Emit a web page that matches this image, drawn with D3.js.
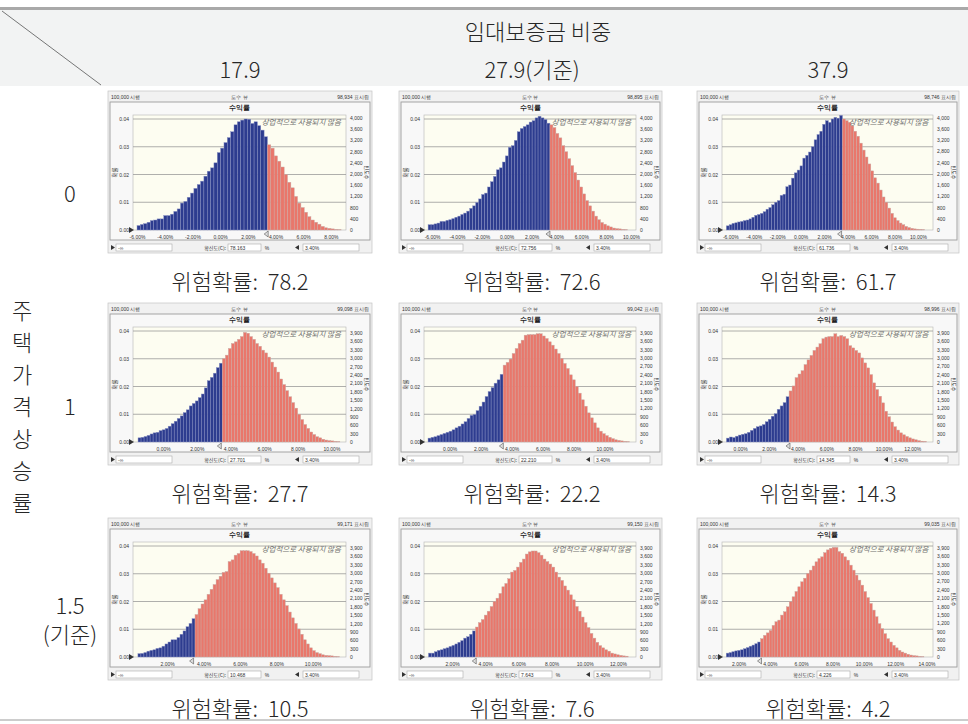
<!DOCTYPE html>
<html><head><meta charset="utf-8">
<script src="https://cdn.jsdelivr.net/npm/d3@7"></script>
<style>body{margin:0;background:#fff} svg{display:block} text{white-space:pre}</style>
</head><body><svg id="c" width="968" height="724"></svg>
<script>
// ---------------- data ----------------
const headerTitle = "임대보증금 비중";
const colLabels = ["17.9", "27.9(기준)", "37.9"];
const rowTitle = ["주","택","가","격","상","승","률"];
const rowLabels = [["0"], ["1"], ["1.5", "(기준)"]];
const riskLabel = "위험확률";
const riskValues = ["78.2", "72.6", "61.7", "27.7", "22.2", "14.3", "10.5", "7.6", "4.2"];
const certainty = ["78.163", "72.756", "61.736", "27.701", "22.210", "14.345", "10.468", "7.643", "4.226"];
const shownCount = [98934, 98895, 98746, 99098, 99042, 98996, 99171, 99150, 99035];
const trials = "100,000 시행";
const splitValue = 3.4;
const probTicks = [0, 0.01, 0.02, 0.03, 0.04];
const countTicksRow = [
  [0,400,800,1200,1600,2000,2400,2800,3200,3600,4000],
  [0,300,600,900,1200,1500,1800,2100,2400,2700,3000,3300,3600,3900],
  [0,300,600,900,1200,1500,1800,2100,2400,2700,3000,3300,3600,3900]
];
const xTicks = [
  [-6,-4,-2,0,2,4,6,8], [-6,-4,-2,0,2,4,6,8,10], [-6,-4,-2,0,2,4,6,8,10],
  [0,2,4,6,8,10], [0,2,4,6,8,10], [0,2,4,6,8,10,12],
  [2,4,6,8,10], [2,4,6,8,10,12], [2,4,6,8,10,12,14]
];
const xMin = [-6.29, -6.65, -6.71, -1.79, -1.66, -1.27, 0.13, 0.31, 0.94];
const xMax = [9.09, 10.4, 11.28, 10.87, 12.03, 13.44, 11.82, 13.09, 14.42];
const binStart = [-6.0, -6.32, -6.34, -1.49, -1.40, -0.96, 0.40, 0.58, 1.21];
const binWidth = [0.2415, 0.239, 0.2415, 0.179, 0.194, 0.208, 0.165, 0.177, 0.183];

const hist0 = [0.0016,0.0020,0.0023,0.0028,0.0034,0.0036,0.0040,0.0040,0.0052,0.0052,0.0057,0.0067,0.0076,0.0097,0.0103,0.0118,0.0133,0.0150,0.0164,0.0176,0.0194,0.0212,0.0224,0.0242,0.0279,0.0295,0.0315,0.0333,0.0354,0.0379,0.0390,0.0396,0.0400,0.0399,0.0384,0.0390,0.0376,0.0360,0.0336,
  0.0307,0.0295,0.0267,0.0248,0.0227,0.0200,0.0172,0.0152,0.0121,0.0097,0.0081,0.0064,0.0048,0.0036,0.0028,0.0021,0.0013,0.0008,0.0006,0.0004,0.0002,0.0001];
const hist1 = [0.0019,0.0019,0.0022,0.0025,0.0031,0.0031,0.0035,0.0037,0.0041,0.0046,0.0050,0.0056,0.0061,0.0068,0.0078,0.0087,0.0099,0.0112,0.0128,0.0133,0.0155,0.0174,0.0193,0.0217,0.0224,0.0245,0.0267,0.0298,0.0304,0.0323,0.0354,0.0366,0.0373,0.0379,0.0389,0.0394,0.0404,0.0410,0.0404,0.0398,0.0385,
  0.0379,0.0369,0.0348,0.0332,0.0304,0.0282,0.0257,0.0232,0.0207,0.0180,0.0155,0.0130,0.0106,0.0087,0.0068,0.0050,0.0037,0.0027,0.0021,0.0015,0.0011,0.0007,0.0005,0.0004,0.0002,0.0001];
const hist2 = [0.0015,0.0019,0.0024,0.0026,0.0029,0.0031,0.0034,0.0036,0.0040,0.0046,0.0053,0.0056,0.0060,0.0066,0.0075,0.0081,0.0091,0.0100,0.0106,0.0125,0.0129,0.0156,0.0162,0.0187,0.0206,0.0216,0.0231,0.0259,0.0269,0.0281,0.0300,0.0325,0.0344,0.0356,0.0381,0.0394,0.0388,0.0400,0.0406,0.0403,0.0413,
  0.0400,0.0394,0.0388,0.0375,0.0356,0.0338,0.0313,0.0288,0.0263,0.0238,0.0213,0.0188,0.0169,0.0144,0.0119,0.0100,0.0079,0.0060,0.0044,0.0034,0.0025,0.0019,0.0013,0.0009,0.0006,0.0004,0.0003,0.0002,0.0001];
const hist3 = [0.0015,0.0017,0.0020,0.0024,0.0029,0.0033,0.0035,0.0041,0.0044,0.0049,0.0057,0.0066,0.0075,0.0085,0.0094,0.0106,0.0116,0.0130,0.0139,0.0148,0.0160,0.0173,0.0195,0.0221,0.0233,0.0248,0.0268,0.0284,
  0.0300,0.0313,0.0337,0.0355,0.0361,0.0370,0.0380,0.0395,0.0392,0.0380,0.0370,0.0355,0.0345,0.0331,0.0321,0.0306,0.0288,0.0270,0.0252,0.0227,0.0207,0.0185,0.0163,0.0142,0.0122,0.0100,0.0081,0.0063,0.0049,0.0036,0.0027,0.0019,0.0015,0.0010,0.0007,0.0005,0.0004,0.0002,0.0001];
const hist4 = [0.0014,0.0017,0.0019,0.0023,0.0027,0.0031,0.0035,0.0039,0.0044,0.0051,0.0057,0.0065,0.0073,0.0085,0.0096,0.0099,0.0113,0.0129,0.0144,0.0164,0.0182,0.0196,0.0212,0.0224,0.0244,
  0.0277,0.0287,0.0299,0.0319,0.0337,0.0355,0.0367,0.0385,0.0387,0.0387,0.0387,0.0390,0.0390,0.0382,0.0373,0.0361,0.0349,0.0335,0.0319,0.0301,0.0283,0.0265,0.0242,0.0224,0.0200,0.0176,0.0152,0.0129,0.0105,0.0087,0.0069,0.0051,0.0039,0.0030,0.0023,0.0017,0.0012,0.0008,0.0006,0.0004,0.0002,0.0001];
const hist5 = [0.0014,0.0018,0.0016,0.0021,0.0025,0.0028,0.0030,0.0035,0.0042,0.0049,0.0055,0.0058,0.0063,0.0073,0.0082,0.0093,0.0102,0.0118,0.0130,0.0142,0.0163,
  0.0184,0.0202,0.0232,0.0245,0.0257,0.0279,0.0296,0.0312,0.0330,0.0342,0.0354,0.0372,0.0378,0.0380,0.0380,0.0390,0.0380,0.0384,0.0380,0.0372,0.0347,0.0339,0.0330,0.0321,0.0303,0.0285,0.0267,0.0243,0.0213,0.0189,0.0165,0.0141,0.0111,0.0091,0.0072,0.0055,0.0043,0.0033,0.0026,0.0020,0.0015,0.0011,0.0008,0.0005,0.0003,0.0002];
const hist6 = [0.0012,0.0013,0.0016,0.0021,0.0024,0.0026,0.0031,0.0033,0.0039,0.0047,0.0054,0.0062,0.0062,0.0070,0.0082,0.0094,0.0109,0.0121,0.0138,
  0.0153,0.0174,0.0191,0.0206,0.0226,0.0244,0.0261,0.0279,0.0291,0.0305,0.0308,0.0344,0.0350,0.0367,0.0373,0.0383,0.0383,0.0383,0.0380,0.0373,0.0364,0.0350,0.0338,0.0320,0.0302,0.0285,0.0267,0.0250,0.0226,0.0206,0.0185,0.0162,0.0141,0.0121,0.0101,0.0082,0.0062,0.0047,0.0033,0.0023,0.0016,0.0012,0.0008,0.0006,0.0005,0.0004,0.0002,0.0001];
const hist7 = [0.0014,0.0014,0.0019,0.0024,0.0026,0.0030,0.0033,0.0038,0.0042,0.0047,0.0053,0.0059,0.0068,0.0073,0.0082,0.0094,
  0.0108,0.0124,0.0135,0.0151,0.0165,0.0182,0.0200,0.0212,0.0229,0.0253,0.0265,0.0282,0.0306,0.0312,0.0324,0.0341,0.0353,0.0371,0.0379,0.0382,0.0382,0.0376,0.0367,0.0353,0.0344,0.0335,0.0324,0.0306,0.0288,0.0276,0.0256,0.0241,0.0224,0.0206,0.0182,0.0165,0.0144,0.0124,0.0106,0.0085,0.0068,0.0053,0.0041,0.0033,0.0026,0.0021,0.0014,0.0011,0.0008,0.0006,0.0004,0.0003];
const hist8 = [0.0014,0.0016,0.0019,0.0022,0.0024,0.0026,0.0030,0.0034,0.0039,0.0043,0.0048,0.0054,
  0.0066,0.0078,0.0087,0.0096,0.0114,0.0127,0.0133,0.0151,0.0163,0.0181,0.0199,0.0217,0.0236,0.0253,0.0271,0.0284,0.0301,0.0313,0.0328,0.0343,0.0355,0.0361,0.0376,0.0386,0.0392,0.0395,0.0395,0.0380,0.0374,0.0361,0.0349,0.0331,0.0313,0.0295,0.0277,0.0259,0.0236,0.0214,0.0193,0.0169,0.0145,0.0120,0.0102,0.0084,0.0066,0.0054,0.0042,0.0033,0.0024,0.0018,0.0014,0.0010,0.0007,0.0005,0.0004,0.0002,0.0001];
const hists = [hist0, hist1, hist2, hist3, hist4, hist5, hist6, hist7, hist8];

// ---------------- layout ----------------
const W = 968, H = 724;
const KR = "'Noto Sans CJK KR','Noto Sans',sans-serif";
const SM = "'Liberation Sans','DejaVu Sans',sans-serif";
const rowBase = [230, 442, 657];
const colLeft = [133, 424, 722];
const colWidth = [213, 212, 211];
const colCenter = [240, 532, 828];
const captionY = [280, 492, 707];
const plotH = 115;
const yMax = 0.04 * 115 / 111;
const BLUE = "#2d3c8f", RED = "#e9776b";

const svg = d3.select("#c");

// header band
svg.append("rect").attr("x",0).attr("y",10).attr("width",W).attr("height",76).attr("fill","#f2f3f3");
svg.append("rect").attr("x",0).attr("y",7).attr("width",W).attr("height",3).attr("fill","#a9a9a9");
svg.append("line").attr("x1",2).attr("y1",11).attr("x2",101).attr("y2",85).attr("stroke","#555").attr("stroke-width",0.8);
svg.append("line").attr("x1",0).attr("y1",720).attr("x2",W).attr("y2",720).attr("stroke","#9a9a9a").attr("stroke-width",1);

const big = (x,y,t,size=22)=>svg.append("text").attr("x",x).attr("y",y).attr("text-anchor","middle")
  .attr("dominant-baseline","central").attr("font-family",KR).attr("font-weight",300)
  .attr("font-size",size).attr("fill","#262626").text(t);

big(538, 30, headerTitle);
colLabels.forEach((t,i)=>big(colCenter[i], 68, t));
rowTitle.forEach((t,i)=>big(22, 309 + i*32, t));
big(70, 192, rowLabels[0][0]);
big(70, 405, rowLabels[1][0]);
big(70, 604, rowLabels[2][0]);
big(70, 633, rowLabels[2][1]);

// panels
for (let r=0;r<3;r++) for (let c=0;c<3;c++) {
  const i = r*3+c;
  const y0 = rowBase[r], pL = colLeft[c], pW = colWidth[c], pR = pL+pW, pT = y0-plotH;
  const x = d3.scaleLinear().domain([xMin[i], xMax[i]]).range([pL, pR]);
  const y = d3.scaleLinear().domain([0, yMax]).range([y0, pT]);
  const yc = d3.scaleLinear().domain([0, yMax*shownCount[i]]).range([y0, pT]);
  const g = svg.append("g");

  g.append("rect").attr("x",pL-25).attr("y",y0-139).attr("width",pW+51).attr("height",162)
    .attr("fill","#f1f1f1").attr("stroke","#c4c4c4").attr("stroke-width",0.7);
  g.append("rect").attr("x",pL-23).attr("y",y0-128).attr("width",pW+47).attr("height",138)
    .attr("fill","#f8f8f8").attr("stroke","#9c9c9c").attr("stroke-width",0.9);
  const small = (xx,yy,t,anchor="middle",size=5,extra={})=>{
    const tt = g.append("text").attr("x",xx).attr("y",yy).attr("text-anchor",anchor)
      .attr("dominant-baseline","central").attr("font-family",SM).attr("font-size",size).attr("fill","#333").text(t);
    Object.entries(extra).forEach(([k,v])=>tt.attr(k,v));
    return tt;
  };
  small(pL-22, y0-133, trials, "start");
  small(pL+pW/2, y0-133, "도수 뷰");
  small(pR+23, y0-133, d3.format(",")(shownCount[i]) + " 표시됨", "end");
  small(pL+pW/2, y0-123, "수익률", "middle", 6.5, {"font-weight":"bold","fill":"#222"});

  g.append("rect").attr("x",pL).attr("y",pT).attr("width",pW).attr("height",plotH)
    .attr("fill","#fdfdf1").attr("stroke","#b5b5b5").attr("stroke-width",0.6);
  g.selectAll(".grid").data(probTicks.slice(1)).join("line")
    .attr("x1",pL).attr("x2",pR).attr("y1",d=>y(d)).attr("y2",d=>y(d))
    .attr("stroke","#9a9a9a").attr("stroke-width",0.8);

  const bins = hists[i].map((v,k)=>({x0: binStart[i]+k*binWidth[i], x1: binStart[i]+(k+1)*binWidth[i], v}));
  g.selectAll(".bar").data(bins).join("rect")
    .attr("x",d=>x(d.x0)).attr("width",d=>x(d.x1)-x(d.x0))
    .attr("y",d=>y(d.v)).attr("height",d=>y(0)-y(d.v))
    .attr("fill",d=>d.x0 < splitValue ? BLUE : RED)
    .attr("stroke",d=>d.x0 < splitValue ? "#8a92c4" : "#c9a9a4").attr("stroke-width",0.45);

  // watermark
  small(pL+pW*0.79, y0-109, "상업적으로 사용되지 않음", "middle", 7.5, {"font-style":"italic","fill":"#6f6f6f","font-family":KR});

  // axes
  const la = g.append("g").attr("transform",`translate(${pL},0)`)
    .call(d3.axisLeft(y).tickValues(probTicks).tickFormat(d3.format(".2f")).tickSize(0).tickPadding(4));
  const ra = g.append("g").attr("transform",`translate(${pR},0)`)
    .call(d3.axisRight(yc).tickValues(countTicksRow[r]).tickFormat(d3.format(",")).tickSize(0).tickPadding(4));
  const ba = g.append("g").attr("transform",`translate(0,${y0})`)
    .call(d3.axisBottom(x).tickValues(xTicks[i]).tickFormat(d=>d.toFixed(2)+"%").tickSize(0).tickPadding(5));
  [la,ra,ba].forEach(a=>{a.select(".domain").remove();
    a.selectAll("text").attr("font-family",SM).attr("font-size",5).attr("fill","#333");});

  small(pL-18, (y0+pT)/2, "확률", "middle", 5.5, {"transform":`rotate(-90,${pL-18},${(y0+pT)/2})`,"font-family":KR});
  small(pR+21, (y0+pT)/2, "빈도수", "middle", 5, {"transform":`rotate(90,${pR+21},${(y0+pT)/2})`,"font-family":KR});

  // markers
  const xs = x(splitValue);
  g.append("path").attr("d",`M${xs-3},${y0+4}L${xs+1},${y0+1}L${xs+1},${y0+7}Z`).attr("fill","#ddd").attr("stroke","#555").attr("stroke-width",0.6);
  g.append("path").attr("d",`M${pL-4},${y0-3}L${pL+1},${y0}L${pL-4},${y0+3}Z`).attr("fill","#333");

  // controls
  const cy = y0+14;
  g.append("path").attr("d",`M${pL-22},${cy+1}L${pL-18},${cy+3.5}L${pL-22},${cy+6}Z`).attr("fill","#333");
  g.append("rect").attr("x",pL-17).attr("y",cy).attr("width",56).attr("height",7).attr("fill","#fff").attr("stroke","#aaa").attr("stroke-width",0.6);
  small(pL-15, cy+3.5, "-∞", "start", 5);
  small(pL+93, cy+3.5, "확신도(C):", "end", 5, {"font-family":KR});
  g.append("rect").attr("x",pL+95).attr("y",cy).attr("width",33).attr("height",7).attr("fill","#fff").attr("stroke","#aaa").attr("stroke-width",0.6);
  small(pL+97, cy+3.5, certainty[i], "start", 5);
  small(pL+134, cy+3.5, "%", "middle", 5);
  g.append("path").attr("d",`M${pL+166},${cy+1}L${pL+162},${cy+3.5}L${pL+166},${cy+6}Z`).attr("fill","#333");
  g.append("rect").attr("x",pL+170).attr("y",cy).attr("width",56).attr("height",7).attr("fill","#fff").attr("stroke","#aaa").attr("stroke-width",0.6);
  small(pL+172, cy+3.5, splitValue.toFixed(2)+"%", "start", 5);

  big(colCenter[c], captionY[r], `${riskLabel}:  ${riskValues[i]}`);
}
</script></body></html>
